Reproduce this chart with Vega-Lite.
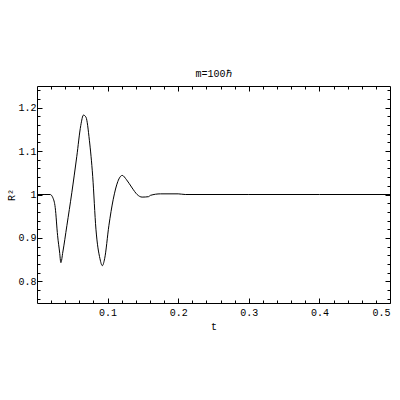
{
  "$schema": "https://vega.github.io/schema/vega-lite/v6.json",
  "autosize": "none",
  "width": 353,
  "height": 217,
  "padding": {"left": 37, "top": 86, "right": 10, "bottom": 97},
  "background": "white",
  "title": {"text": "m=100ℏ", "font": "Liberation Mono", "fontSize": 10, "fontWeight": "normal", "color": "black", "offset": 7},
  "config": {
    "view": {"stroke": "black", "strokeWidth": 1},
    "axis": {"labelFont": "Liberation Mono", "labelFontSize": 10, "labelColor": "black", "titleFont": "Liberation Mono", "titleFontSize": 10, "titleFontWeight": "normal", "titleColor": "black", "tickColor": "black", "domain": false, "grid": false}
  },
  "data": {"values": [
    {"t": 0, "r": 1.0},
    {"t": 0.01, "r": 1.0},
    {"t": 0.0187, "r": 1.0},
    {"t": 0.0225, "r": 0.9925},
    {"t": 0.0258, "r": 0.970},
    {"t": 0.0292, "r": 0.905},
    {"t": 0.032, "r": 0.8675},
    {"t": 0.0338, "r": 0.843},
    {"t": 0.0366, "r": 0.8675},
    {"t": 0.0423, "r": 0.928},
    {"t": 0.0493, "r": 1.004},
    {"t": 0.0563, "r": 1.087},
    {"t": 0.062, "r": 1.159},
    {"t": 0.0658, "r": 1.183},
    {"t": 0.0694, "r": 1.178},
    {"t": 0.0742, "r": 1.125},
    {"t": 0.0789, "r": 1.042},
    {"t": 0.0835, "r": 0.920},
    {"t": 0.0892, "r": 0.852},
    {"t": 0.0925, "r": 0.836},
    {"t": 0.0958, "r": 0.852},
    {"t": 0.1018, "r": 0.928},
    {"t": 0.108, "r": 0.989},
    {"t": 0.1145, "r": 1.030},
    {"t": 0.1207, "r": 1.044},
    {"t": 0.1268, "r": 1.034},
    {"t": 0.1348, "r": 1.015},
    {"t": 0.1418, "r": 1.0},
    {"t": 0.1489, "r": 0.994},
    {"t": 0.158, "r": 0.995},
    {"t": 0.1606, "r": 0.998},
    {"t": 0.175, "r": 1.0015},
    {"t": 0.2, "r": 1.0015},
    {"t": 0.21, "r": 1.0},
    {"t": 0.3, "r": 1.0},
    {"t": 0.4, "r": 1.0},
    {"t": 0.5, "r": 1.0}
  ]},
  "resolve": {"axis": {"x": "independent", "y": "independent"}},
  "layer": [
    {
      "mark": {"type": "line", "color": "black", "strokeWidth": 1, "interpolate": "monotone", "clip": true},
      "encoding": {
        "x": {"field": "t", "type": "quantitative", "scale": {"domain": [0, 0.5], "nice": false, "zero": false},
          "axis": {"orient": "bottom", "title": "t", "titlePadding": 4,
            "values": [0.02,0.04,0.06,0.08,0.1,0.12,0.14,0.16,0.18,0.2,0.22,0.24,0.26,0.28,0.3,0.32,0.34,0.36,0.38,0.4,0.42,0.44,0.46,0.48,0.5],
            "tickSize": {"condition": {"test": "abs(datum.value*10 - round(datum.value*10)) < 0.001", "value": -5}, "value": -3},
            "labelExpr": "abs(datum.value*10 - round(datum.value*10)) < 0.001 ? format(datum.value, '.1f') : ''",
            "labelPadding": 9}},
        "y": {"field": "r", "type": "quantitative", "scale": {"domain": [0.75, 1.25], "nice": false, "zero": false},
          "axis": {"orient": "left", "title": "R²", "titlePadding": 1,
            "values": [0.76,0.78,0.8,0.82,0.84,0.86,0.88,0.9,0.92,0.94,0.96,0.98,1,1.02,1.04,1.06,1.08,1.1,1.12,1.14,1.16,1.18,1.2,1.22,1.24],
            "tickSize": {"condition": {"test": "abs(datum.value*10 - round(datum.value*10)) < 0.001", "value": -5}, "value": -3},
            "labelExpr": "abs(datum.value*10 - round(datum.value*10)) < 0.001 ? (datum.value == 1 ? '1' : format(datum.value, '.1f')) : ''",
            "labelPadding": 6}}
      }
    },
    {
      "mark": {"type": "line", "color": "black", "strokeWidth": 1, "interpolate": "monotone", "clip": true, "opacity": 0},
      "encoding": {
        "x": {"field": "t", "type": "quantitative",
          "axis": {"orient": "top", "title": null, "labels": false,
            "values": [0.02,0.04,0.06,0.08,0.1,0.12,0.14,0.16,0.18,0.2,0.22,0.24,0.26,0.28,0.3,0.32,0.34,0.36,0.38,0.4,0.42,0.44,0.46,0.48],
            "tickSize": {"condition": {"test": "abs(datum.value*10 - round(datum.value*10)) < 0.001", "value": -5}, "value": -3}}},
        "y": {"field": "r", "type": "quantitative",
          "axis": {"orient": "right", "title": null, "labels": false,
            "values": [0.76,0.78,0.8,0.82,0.84,0.86,0.88,0.9,0.92,0.94,0.96,0.98,1,1.02,1.04,1.06,1.08,1.1,1.12,1.14,1.16,1.18,1.2,1.22,1.24],
            "tickSize": {"condition": {"test": "abs(datum.value*10 - round(datum.value*10)) < 0.001", "value": -5}, "value": -3}}}
      }
    }
  ]
}
